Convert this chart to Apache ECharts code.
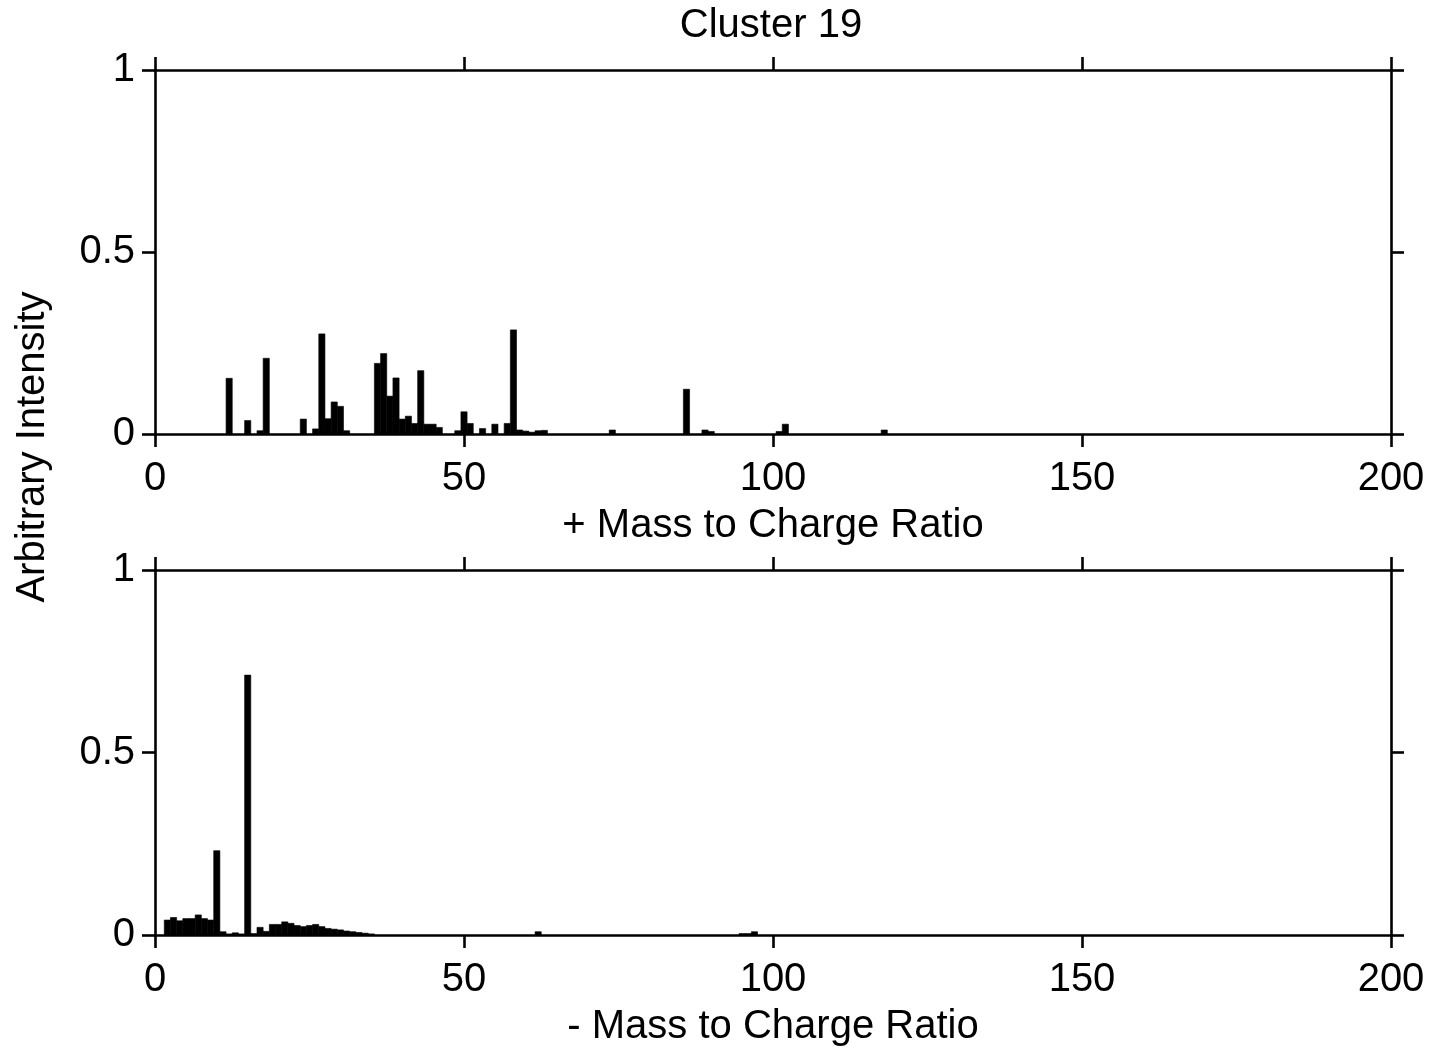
<!DOCTYPE html>
<html><head><meta charset="utf-8">
<script src="https://cdn.jsdelivr.net/npm/echarts@6/dist/echarts.min.js"></script>
<style>html,body{margin:0;padding:0;background:#fff}#c{width:1437px;height:1055px}</style>
</head><body><div id="c"></div>
<script>
const chartTitle = 'Cluster 19';
const yName = 'Arbitrary Intensity';
const posAxisName = '+ Mass to Charge Ratio';
const negAxisName = '- Mass to Charge Ratio';
const xMin = 0, xMax = 200, xStep = 50;
const yMin = 0, yMax = 1, yStep = 0.5;

const posMz  = [12, 15, 17, 18, 24, 26, 27, 28, 29, 30, 31, 36, 37, 38, 39, 40, 41, 42, 43, 44, 45, 46, 49, 50, 51, 53, 55, 57, 58, 59, 60, 61, 62, 63, 74, 86, 89, 90, 101, 102, 118];
const posVal = [0.153, 0.037, 0.009, 0.208, 0.041, 0.014, 0.275, 0.042, 0.088, 0.076, 0.009, 0.194, 0.221, 0.104, 0.154, 0.041, 0.049, 0.029, 0.174, 0.027, 0.027, 0.018, 0.009, 0.061, 0.029, 0.015, 0.027, 0.029, 0.286, 0.011, 0.008, 0.005, 0.009, 0.010, 0.011, 0.123, 0.011, 0.007, 0.007, 0.027, 0.011];

const negMz  = [2, 3, 4, 5, 6, 7, 8, 9, 10, 11, 12, 13, 14, 15, 16, 17, 18, 19, 20, 21, 22, 23, 24, 25, 26, 27, 28, 29, 30, 31, 32, 33, 34, 35, 62, 95, 96, 97];
const negVal = [0.041, 0.048, 0.039, 0.045, 0.045, 0.055, 0.045, 0.041, 0.231, 0.009, 0.003, 0.006, 0.003, 0.712, 0.004, 0.021, 0.010, 0.029, 0.029, 0.036, 0.032, 0.026, 0.023, 0.026, 0.029, 0.023, 0.018, 0.016, 0.014, 0.011, 0.009, 0.007, 0.005, 0.003, 0.009, 0.004, 0.004, 0.009];

const FONT = 'Liberation Sans, Arial, sans-serif';
const FS = 40;
const LW = 2.6;

function pairs(xs, ys) { return xs.map((x, i) => [x, ys[i]]); }

function renderBar(params, api) {
  const x = api.value(0), v = api.value(1);
  const p0 = api.coord([x - 0.5, v]);
  const p1 = api.coord([x + 0.5, 0]);
  return { type: 'rect', shape: { x: p0[0], y: p0[1], width: p1[0] - p0[0], height: p1[1] - p0[1] }, style: { fill: '#000', stroke: '#000', lineWidth: 0.6 } };
}

function xAxisDef(grid, pos, name, showLabel) {
  return {
    type: 'value', gridIndex: grid, position: pos, min: xMin, max: xMax, interval: xStep,
    name: name, nameLocation: 'middle', nameGap: 72,
    nameTextStyle: { fontSize: FS, color: '#000', fontFamily: FONT },
    axisLine: { show: true, onZero: false, lineStyle: { color: '#000', width: LW } },
    axisTick: { show: true, inside: false, length: 13, lineStyle: { color: '#000', width: LW } },
    axisLabel: { show: showLabel, fontSize: FS, color: '#000', fontFamily: FONT, margin: 25 },
    splitLine: { show: false }
  };
}
function yAxisDef(grid, pos, showLabel) {
  return {
    type: 'value', gridIndex: grid, position: pos, min: yMin, max: yMax, interval: yStep,
    axisLine: { show: true, onZero: false, lineStyle: { color: '#000', width: LW } },
    axisTick: { show: true, inside: false, length: 13, lineStyle: { color: '#000', width: LW } },
    axisLabel: { show: showLabel, fontSize: FS, color: '#000', fontFamily: FONT, margin: 20 },
    splitLine: { show: false }
  };
}

const chart = echarts.init(document.getElementById('c'), null, { renderer: 'canvas' });
chart.setOption({
  backgroundColor: '#fff',
  animation: false,
  grid: [
    { left: 155, right: 46, top: 70, height: 364 },
    { left: 155, right: 46, top: 570, height: 365 }
  ],
  xAxis: [
    xAxisDef(0, 'bottom', posAxisName, true),
    xAxisDef(0, 'top', '', false),
    xAxisDef(1, 'bottom', negAxisName, true),
    xAxisDef(1, 'top', '', false)
  ],
  yAxis: [
    yAxisDef(0, 'left', true),
    yAxisDef(0, 'right', false),
    yAxisDef(1, 'left', true),
    yAxisDef(1, 'right', false)
  ],
  graphic: [
    { type: 'text', x: 771, y: 26, style: { text: chartTitle, font: FS + 'px ' + FONT, fill: '#000', textAlign: 'center', textVerticalAlign: 'middle' } },
    { type: 'text', x: 33, y: 447, rotation: Math.PI / 2, style: { text: yName, font: FS + 'px ' + FONT, fill: '#000', textAlign: 'center', textVerticalAlign: 'middle' } }
  ],
  series: [
    { type: 'custom', xAxisIndex: 0, yAxisIndex: 0, renderItem: renderBar, encode: { x: 0, y: 1 }, data: pairs(posMz, posVal), clip: true },
    { type: 'custom', xAxisIndex: 2, yAxisIndex: 2, renderItem: renderBar, encode: { x: 0, y: 1 }, data: pairs(negMz, negVal), clip: true }
  ]
});
</script></body></html>
